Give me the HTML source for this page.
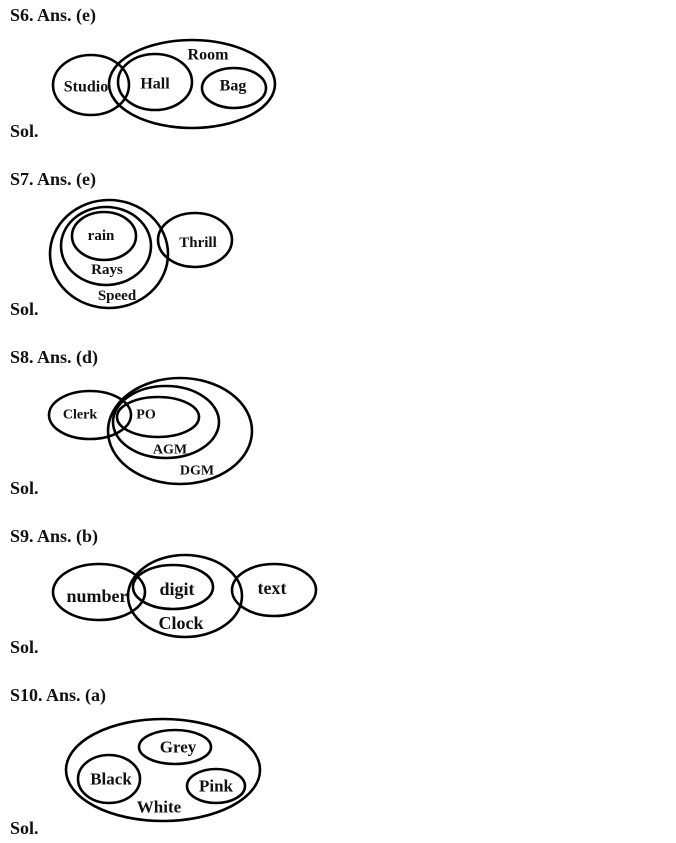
<!DOCTYPE html>
<html><head><style>
html,body{margin:0;padding:0;background:#fff;width:676px;height:843px;overflow:hidden}
svg{display:block}
text{font-family:"Liberation Serif",serif;font-weight:bold;fill:#111}
.h{font-size:18px}
.l{font-size:16px}
ellipse{fill:none;stroke:#000;stroke-width:2.6}
</style></head><body>
<svg width="676" height="843" viewBox="0 0 676 843">
<g>
<text x="10" y="21" class="h">S6. Ans. (e)</text>
<text x="10" y="137" class="h">Sol.</text>
<text x="10" y="185" class="h">S7. Ans. (e)</text>
<text x="10" y="315" class="h">Sol.</text>
<text x="10" y="363" class="h">S8. Ans. (d)</text>
<text x="10" y="494" class="h">Sol.</text>
<text x="10" y="542" class="h">S9. Ans. (b)</text>
<text x="10" y="653" class="h">Sol.</text>
<text x="10" y="701" class="h">S10. Ans. (a)</text>
<text x="10" y="834" class="h">Sol.</text>
</g>
<!-- S6 -->
<ellipse cx="91" cy="85" rx="38" ry="30"/>
<ellipse cx="192" cy="84" rx="83" ry="44"/>
<ellipse cx="155" cy="82" rx="37" ry="28"/>
<ellipse cx="234" cy="88" rx="32" ry="20"/>
<g text-anchor="middle" dominant-baseline="central">
<text x="208" y="55" class="l">Room</text>
<text x="86" y="87" class="l">Studio</text>
<text x="155" y="84" class="l">Hall</text>
<text x="233" y="86" class="l">Bag</text>
</g>
<!-- S7 -->
<ellipse cx="109" cy="254" rx="59" ry="54"/>
<ellipse cx="106" cy="246" rx="45" ry="39"/>
<ellipse cx="104" cy="236" rx="32" ry="24"/>
<ellipse cx="195" cy="240" rx="37" ry="27"/>
<g text-anchor="middle" dominant-baseline="central">
<text x="101" y="236" style="font-size:15px">rain</text>
<text x="107" y="270" style="font-size:15px">Rays</text>
<text x="117" y="296" style="font-size:15px">Speed</text>
<text x="198" y="243" style="font-size:15px">Thrill</text>
</g>
<!-- S8 -->
<ellipse cx="90" cy="415" rx="41" ry="24"/>
<ellipse cx="180" cy="431" rx="72" ry="53"/>
<ellipse cx="166" cy="422" rx="53" ry="36"/>
<ellipse cx="158" cy="417" rx="41" ry="20"/>
<g text-anchor="middle" dominant-baseline="central">
<text x="80" y="415" style="font-size:14px">Clerk</text>
<text x="146" y="415" style="font-size:14px">PO</text>
<text x="170" y="450" style="font-size:14px">AGM</text>
<text x="197" y="471" style="font-size:14px">DGM</text>
</g>
<!-- S9 -->
<ellipse cx="99" cy="592" rx="46" ry="28"/>
<ellipse cx="185" cy="596" rx="57" ry="41"/>
<ellipse cx="173" cy="587" rx="40" ry="22"/>
<ellipse cx="274" cy="590" rx="42" ry="26"/>
<g text-anchor="middle" dominant-baseline="central">
<text x="97" y="596" style="font-size:18px">number</text>
<text x="177" y="589" style="font-size:18px">digit</text>
<text x="181" y="623" style="font-size:18px">Clock</text>
<text x="272" y="588" style="font-size:18px">text</text>
</g>
<!-- S10 -->
<ellipse cx="163" cy="770" rx="97" ry="51"/>
<ellipse cx="175" cy="747" rx="36" ry="17"/>
<ellipse cx="109" cy="779" rx="31" ry="24"/>
<ellipse cx="216" cy="786" rx="29" ry="17"/>
<g text-anchor="middle" dominant-baseline="central">
<text x="178" y="747" style="font-size:17px">Grey</text>
<text x="111" y="779" style="font-size:17px">Black</text>
<text x="216" y="786" style="font-size:17px">Pink</text>
<text x="159" y="807" style="font-size:17px">White</text>
</g>
</svg>
</body></html>
